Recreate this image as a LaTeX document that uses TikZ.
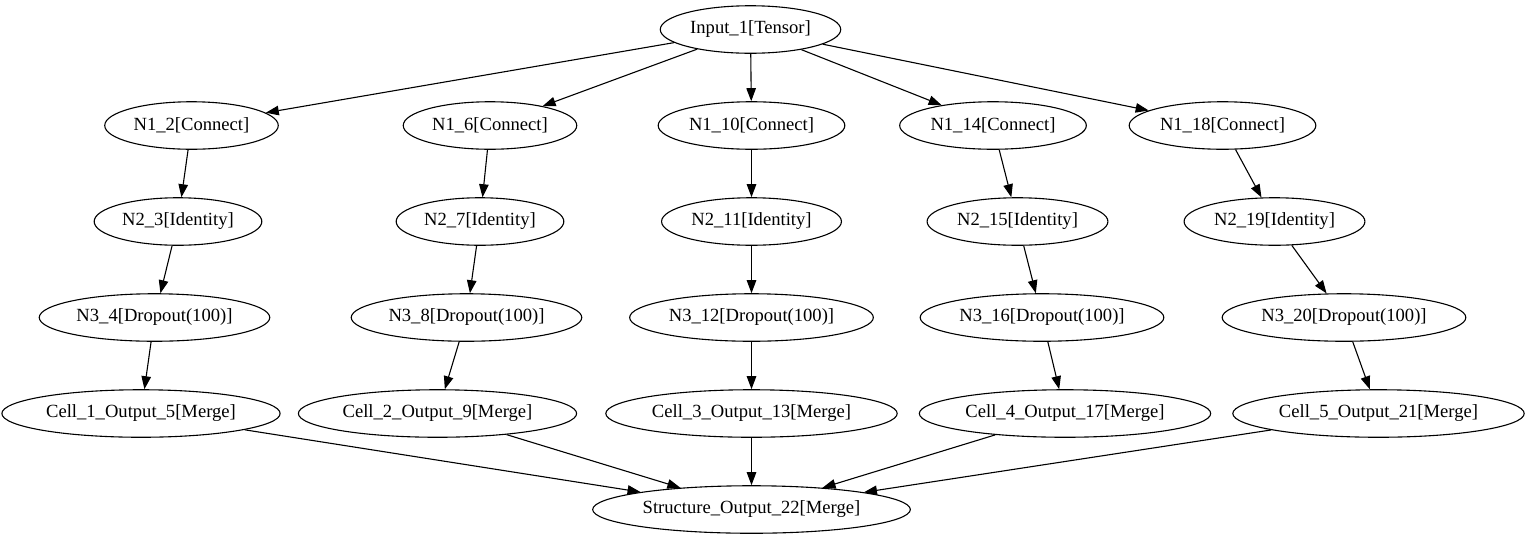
\documentclass[tikz,border=0pt]{standalone}
\usepackage{fontspec}
\setmainfont{Liberation Serif}
\usetikzlibrary{shapes.geometric,arrows.meta}
\begin{document}
\begin{tikzpicture}[x=1pt,y=-1pt,
  nd/.style={draw, ellipse, line width=1.1pt, inner xsep=3.5pt, inner ysep=2pt,
             minimum height=47.5pt, font=\fontsize{18.6}{22}\selectfont},
  ed/.style={draw, line width=1.1pt, -{Triangle[length=13pt,width=9.5pt]}}]
\useasboundingbox (0,0) rectangle (1528,539);
\node[nd] (in) at (750.5,29.5) {Input\_1[Tensor]};
\node[nd] (a1) at (191.5,125.5) {N1\_2[Connect]};
\node[nd] (a2) at (490,125.5) {N1\_6[Connect]};
\node[nd] (a3) at (751.5,125.5) {N1\_10[Connect]};
\node[nd] (a4) at (993,125.5) {N1\_14[Connect]};
\node[nd] (a5) at (1222.5,125.5) {N1\_18[Connect]};
\node[nd] (b1) at (178,221.5) {N2\_3[Identity]};
\node[nd] (b2) at (480,221.5) {N2\_7[Identity]};
\node[nd] (b3) at (751.5,221.5) {N2\_11[Identity]};
\node[nd] (b4) at (1017.5,221.5) {N2\_15[Identity]};
\node[nd] (b5) at (1274.5,221.5) {N2\_19[Identity]};
\node[nd] (c1) at (154.5,317.5) {N3\_4[Dropout(100)]};
\node[nd] (c2) at (466.5,317.5) {N3\_8[Dropout(100)]};
\node[nd] (c3) at (751.5,317.5) {N3\_12[Dropout(100)]};
\node[nd] (c4) at (1042,317.5) {N3\_16[Dropout(100)]};
\node[nd] (c5) at (1344,317.5) {N3\_20[Dropout(100)]};
\node[nd] (d1) at (141,413.5) {Cell\_1\_Output\_5[Merge]};
\node[nd] (d2) at (437.5,413.5) {Cell\_2\_Output\_9[Merge]};
\node[nd] (d3) at (751.5,413.5) {Cell\_3\_Output\_13[Merge]};
\node[nd] (d4) at (1065,413.5) {Cell\_4\_Output\_17[Merge]};
\node[nd] (d5) at (1378.5,413.5) {Cell\_5\_Output\_21[Merge]};
\node[nd] (s) at (751.5,509.5) {Structure\_Output\_22[Merge]};
\foreach \i in {1,...,5} {
  \draw[ed] (in) -- (a\i);
  \draw[ed] (a\i) -- (b\i);
  \draw[ed] (b\i) -- (c\i);
  \draw[ed] (c\i) -- (d\i);
  \draw[ed] (d\i) -- (s);
}
\end{tikzpicture}
\end{document}
